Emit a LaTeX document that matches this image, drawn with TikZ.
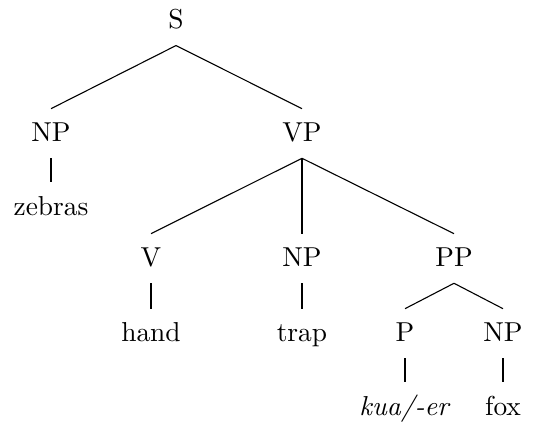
\documentclass[tikz,border=0pt]{standalone}
\begin{document}
\begin{tikzpicture}[x=0.365pt,y=-0.365pt,
  lbl/.style={anchor=base,inner xsep=0pt,inner ysep=4.95pt,text height=6.9pt,text depth=0.9pt},
  edge/.style={draw,line width=0.4pt}]
\useasboundingbox (0,0) rectangle (544,426);
\node[lbl] (S) at (176,29) {S};
\node[lbl] (NP1) at (51,141.7) {NP};
\node[lbl] (VP) at (302,141.7) {VP};
\node[lbl] (zebras) at (51,215) {zebras};
\node[lbl] (V) at (151,266.7) {V};
\node[lbl] (NP2) at (302,266.7) {NP};
\node[lbl] (PP) at (454,266.7) {PP};
\node[lbl] (hand) at (151,341.7) {hand};
\node[lbl] (trap) at (302,341.7) {trap};
\node[lbl] (P) at (405,341.7) {P};
\node[lbl] (NP3) at (503,341.7) {NP};
\node[lbl] (kua) at (405,415) {\textit{kua/-er}};
\node[lbl] (fox) at (503,415) {fox};
\path[edge] (S.south) -- (NP1.north);
\path[edge] (S.south) -- (VP.north);
\path[edge] (NP1.south) -- (zebras.north);
\path[edge] (VP.south) -- (V.north);
\path[edge] (VP.south) -- (NP2.north);
\path[edge] (VP.south) -- (PP.north);
\path[edge] (V.south) -- (hand.north);
\path[edge] (NP2.south) -- (trap.north);
\path[edge] (PP.south) -- (P.north);
\path[edge] (PP.south) -- (NP3.north);
\path[edge] (P.south) -- (kua.north);
\path[edge] (NP3.south) -- (fox.north);
\end{tikzpicture}
\end{document}
